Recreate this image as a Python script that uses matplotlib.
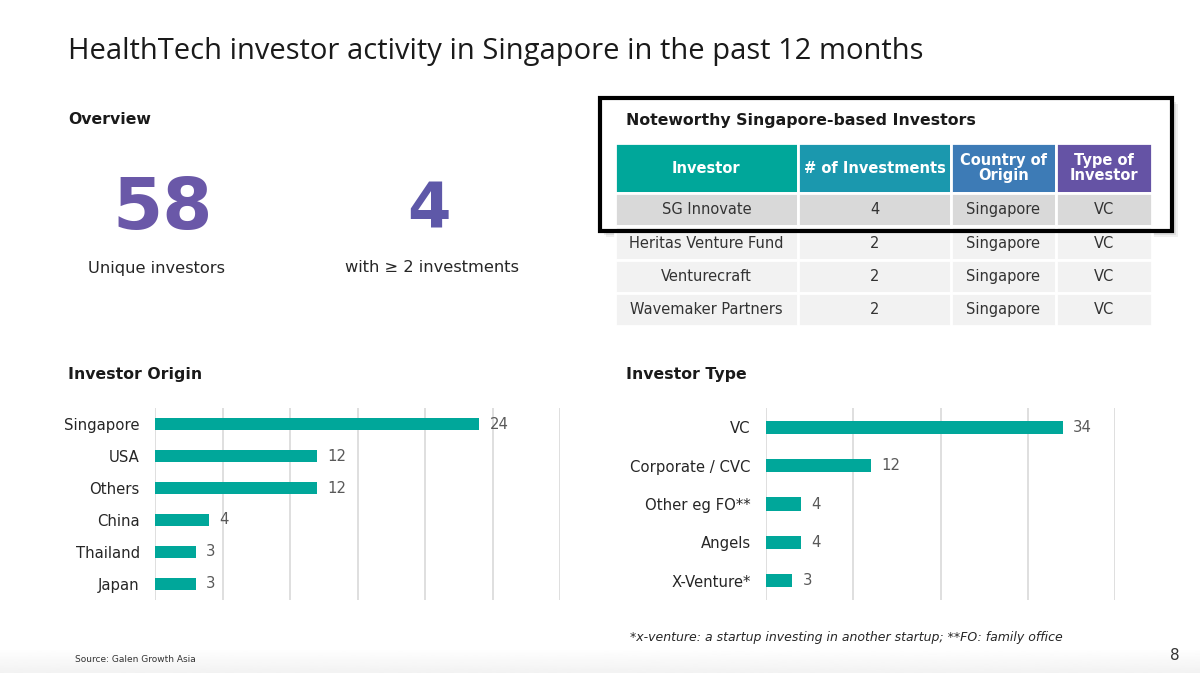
import matplotlib.pyplot as plt
from matplotlib.patches import Rectangle
import numpy as np

W, H = 1200, 673

origin_labels = ["Singapore", "USA", "Others", "China", "Thailand", "Japan"]
origin_counts = [24, 12, 12, 4, 3, 3]

type_labels = ["VC", "Corporate / CVC", "Other eg FO**", "Angels", "X-Venture*"]
type_counts = [34, 12, 4, 4, 3]

table_cols = ["Investor", "# of Investments", "Country of\nOrigin", "Type of\nInvestor"]
investors = ["SG Innovate", "Heritas Venture Fund", "Venturecraft", "Wavemaker Partners"]
n_investments = [4, 2, 2, 2]
countries = ["Singapore", "Singapore", "Singapore", "Singapore"]
investor_types = ["VC", "VC", "VC", "VC"]

unique_investors = 58
multi_investors = 4

TEAL = "#00A79A"
PURPLE = "#6A58A8"
header_colors = ["#00A79A", "#1B98AE", "#3D7BB6", "#6553A5"]
body = "DejaVu Sans"


def box(x0, y0, x1, y1):
    # pixel box (top-left origin) -> figure rect
    return [x0 / W, 1 - y1 / H, (x1 - x0) / W, (y1 - y0) / H]


fig = plt.figure(figsize=(12, 6.73), dpi=100)
bg = fig.add_axes([0, 0, 1, 1])
bg.axis("off")

# faint grey band at the bottom of the slide
grad = np.linspace(1.0, 0.95, 30).reshape(-1, 1)
bg.imshow(grad, cmap="gray", vmin=0, vmax=1, extent=[0, W, H, 648], aspect="auto")
bg.set_xlim(0, W)
bg.set_ylim(H, 0)

bg.text(68, 52, "HealthTech investor activity in Singapore in the past 12 months",
        fontsize=21, family="Open Sans", color="#1a1a1a", va="center")

for x, y, s in [(68, 119, "Overview"), (68, 375, "Investor Origin"), (626, 375, "Investor Type"),
                (626, 120, "Noteworthy Singapore-based Investors")]:
    bg.text(x, y, s, fontsize=11.3, family=body, fontweight="bold", color="#1a1a1a",
            va="center", zorder=6)

bg.text(163, 210, str(unique_investors), fontsize=52, family=body, fontweight="bold",
        color=PURPLE, ha="center", va="center")
bg.text(429, 211, str(multi_investors), fontsize=45, family=body, fontweight="bold",
        color="#5E58A8", ha="center", va="center")
bg.text(157, 268, "Unique investors", fontsize=11.7, family=body, color="#262626",
        ha="center", va="center")
bg.text(432, 268, "with \u2265 2 investments", fontsize=11.7, family=body, color="#262626",
        ha="center", va="center")

bg.text(630, 638, "*x-venture: a startup investing in another startup; **FO: family office",
        fontsize=9, family=body, style="italic", color="#262626", va="center")
bg.text(75, 660, "Source: Galen Growth Asia", fontsize=6.5, family=body, color="#333333",
        va="center")
bg.text(1175, 655, "8", fontsize=11, family=body, color="#333333", ha="center", va="center")

# highlight box behind the top of the table (shadow + white fill)
for off, a in [(6, 0.06), (4, 0.08), (2, 0.1)]:
    bg.add_patch(Rectangle((600 + off, 98 + off), 572, 133, facecolor="black", alpha=a,
                           edgecolor="none"))
bg.add_patch(Rectangle((600, 98), 572, 133, facecolor="white", edgecolor="none"))

# table
tax = fig.add_axes(box(615, 143, 1152, 326))
tax.axis("off")
cells = [[inv, str(n), c, t] for inv, n, c, t in zip(investors, n_investments, countries, investor_types)]
tbl = tax.table(cellText=cells, colLabels=table_cols, bbox=[0, 0, 1, 1], cellLoc="center")
tbl.auto_set_font_size(False)
col_w = [182, 153, 104, 96]
for (r, c), cell in tbl.get_celld().items():
    cell.set_width(col_w[c])
    cell.set_height(50 if r == 0 else 33)
    cell.set_edgecolor("white")
    cell.set_linewidth(2)
    if r == 0:
        cell.set_facecolor(header_colors[c])
        cell.get_text().set(color="white", fontweight="bold", fontsize=10.5, family=body,
                            linespacing=0.95)
    else:
        cell.set_facecolor("#D9D9D9" if r == 1 else "#F2F2F2")
        cell.get_text().set(color="#333333", fontsize=10.5, family=body)

fig.add_artist(Rectangle((600, 98), 572, 133, fill=False, edgecolor="black", linewidth=3,
                         transform=bg.transData, zorder=5))


def bar_chart(rect, labels, values, xmax, step, height):
    ax = fig.add_axes(rect)
    ax.set_facecolor("none")
    y = np.arange(len(values))
    ax.barh(y, values, height=height, color=TEAL, zorder=2)
    ax.set_xlim(0, xmax)
    ax.set_xticks(np.arange(0, xmax + 1, step))
    ax.set_ylim(len(values) - 0.5, -0.5)
    ax.set_yticks(y, labels)
    ax.grid(axis="x", color="#D9D9D9", linewidth=1.2, zorder=0)
    ax.tick_params(length=0, labelbottom=False, labelsize=10.7, labelcolor="#262626", pad=11)
    for lbl in ax.get_yticklabels():
        lbl.set_family(body)
    for s in ax.spines.values():
        s.set_visible(False)
    for yi, v in zip(y, values):
        ax.annotate(str(v), (v, yi), xytext=(7.5, 0), textcoords="offset points",
                    va="center", fontsize=10.7, color="#595959", family=body)
    return ax


bar_chart(box(155, 408, 560, 600), origin_labels, origin_counts, 30, 5, 0.36)
bar_chart(box(766, 408, 1115, 600), type_labels, type_counts, 40, 10, 0.34)

fig.savefig("out.png", dpi=100)
